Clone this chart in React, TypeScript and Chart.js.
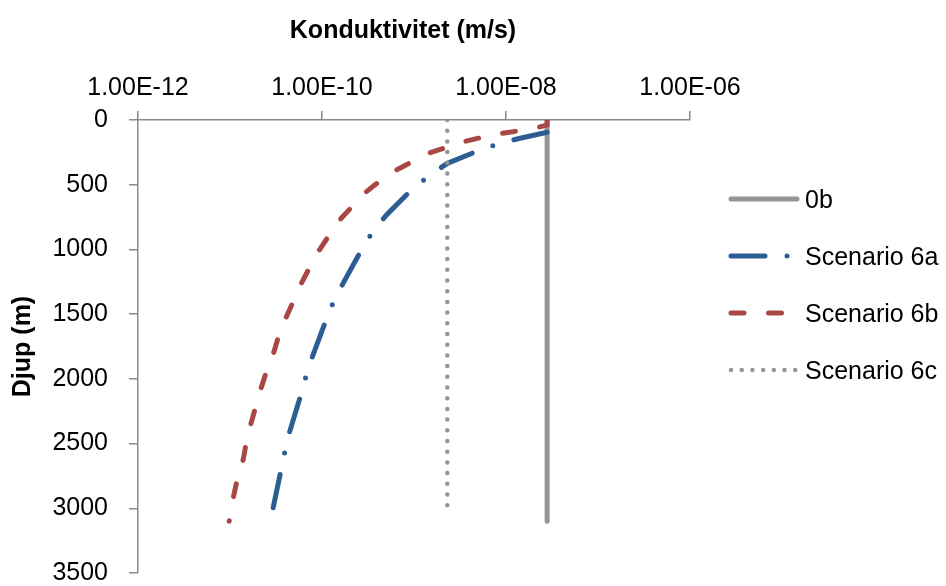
import React, { useEffect, useRef } from "react";
import { Chart, registerables } from "chart.js";

Chart.register(...registerables);

const FONT = "'Liberation Sans', Arial, sans-serif";

// Axis ticks and titles
const xTickValues = [1e-12, 1e-10, 1e-8, 1e-6];
const xTickLabels = ["1.00E-12", "1.00E-10", "1.00E-08", "1.00E-06"];
const xTitle = "Konduktivitet (m/s)";
const yTitle = "Djup (m)";
const yMin = 0;
const yMax = 3500;
const yStep = 500;

// Series names
const seriesNames = ["0b", "Scenario 6a", "Scenario 6b", "Scenario 6c"];

// 0b (depth m, conductivity m/s)
const depth0b = [0, 3100];
const k0b = [2.8e-8, 2.8e-8];

// Scenario 6a
const depth6a = [95, 135, 175, 225, 335, 430, 530, 735, 865, 1000, 1260, 1400, 1550, 1825, 1980, 2140, 2420, 2580, 2740, 3020];
const k6a = [2.8e-8, 1.55e-8, 9.1e-9, 5.5e-9, 2.3e-9, 1.47e-9, 9.7e-10, 5.0e-10, 3.55e-10, 2.7e-10, 1.7e-10, 1.34e-10, 1.1e-10, 7.9e-11, 6.7e-11, 5.8e-11, 4.4e-11, 3.9e-11, 3.5e-11, 2.9e-11];

// Scenario 6b
const depth6b = [0, 40, 57, 83, 103, 134, 165, 214, 253, 325, 387, 474, 557, 665, 763, 889, 1003, 1127, 1258, 1397, 1521, 1663, 1792, 1939, 2062, 2217, 2338, 2493, 2616, 2776, 2900, 3055, 3100];
const k6b = [2.8e-8, 2.8e-8, 2.2e-8, 1.4e-8, 9.1e-9, 5.5e-9, 3.6e-9, 2.2e-9, 1.5e-9, 9.4e-10, 6.4e-10, 4.2e-10, 3.0e-10, 2.15e-10, 1.6e-10, 1.2e-10, 9.4e-11, 7.5e-11, 6.0e-11, 4.9e-11, 4.1e-11, 3.4e-11, 3.0e-11, 2.5e-11, 2.2e-11, 1.9e-11, 1.7e-11, 1.5e-11, 1.4e-11, 1.2e-11, 1.1e-11, 1.0e-11, 9.8e-12];

// Scenario 6c
const depth6c = [0, 3050];
const k6c = [2.3e-9, 2.3e-9];

const toPoints = (ks: number[], ds: number[]) => ks.map((k, i) => ({ x: k, y: ds[i] }));

const legendPlugin = {
  id: "customLegend",
  afterDraw(chart: any) {
    const ctx = chart.ctx;
    const area = chart.chartArea;
    // x-axis title (placed like the original, slightly left of the axis centre)
    ctx.save();
    ctx.fillStyle = "#000";
    ctx.font = `bold 25px ${FONT}`;
    ctx.textAlign = "center";
    ctx.textBaseline = "middle";
    ctx.fillText(xTitle, area.left + 265, 31);
    ctx.restore();

    const x0 = area.right + 41;
    const x1 = area.right + 107;
    const tx = area.right + 115;
    chart.data.datasets.forEach((ds: any, i: number) => {
      const y = 199 + i * 57;
      ctx.save();
      ctx.strokeStyle = ds.borderColor;
      ctx.lineWidth = ds.borderWidth;
      ctx.lineCap = ds.borderCapStyle || "butt";
      ctx.setLineDash(ds.borderDash || []);
      ctx.beginPath();
      ctx.moveTo(x0, y);
      ctx.lineTo(x1, y);
      ctx.stroke();
      ctx.setLineDash([]);
      ctx.fillStyle = "#000";
      ctx.font = `25px ${FONT}`;
      ctx.textBaseline = "middle";
      ctx.textAlign = "left";
      ctx.fillText(ds.label, tx, y + 2);
      ctx.restore();
    });
  },
};

export default function App() {
  const canvasRef = useRef<HTMLCanvasElement | null>(null);

  useEffect(() => {
    if (!canvasRef.current) return;
    const axisColor = "#8a8a8a";
    const chart = new Chart(canvasRef.current, {
      type: "scatter",
      data: {
        datasets: [
          {
            label: seriesNames[0],
            data: toPoints(k0b, depth0b),
            showLine: true,
            borderColor: "#959595",
            borderWidth: 5,
            borderCapStyle: "round",
            pointRadius: 0,
            order: 4,
          },
          {
            label: seriesNames[1],
            data: toPoints(k6a, depth6a),
            showLine: true,
            borderColor: "#2C5E93",
            borderWidth: 5,
            borderCapStyle: "round",
            borderJoinStyle: "round",
            borderDash: [34, 22, 0, 22],
            pointRadius: 0,
            order: 3,
          },
          {
            label: seriesNames[2],
            data: toPoints(k6b, depth6b),
            showLine: true,
            borderColor: "#A94744",
            borderWidth: 5,
            borderCapStyle: "round",
            borderJoinStyle: "round",
            borderDash: [13, 24.5],
            pointRadius: 0,
            order: 2,
          },
          {
            label: seriesNames[3],
            data: toPoints(k6c, depth6c),
            showLine: true,
            borderColor: "#959595",
            borderWidth: 4.5,
            borderCapStyle: "round",
            borderDash: [0, 10.7],
            pointRadius: 0,
            order: 1,
          },
        ] as any,
      },
      options: {
        animation: false,
        responsive: true,
        maintainAspectRatio: false,
        events: [],
        layout: { padding: { left: 0, top: 0, right: 256, bottom: 13 } },
        plugins: {
          legend: { display: false },
          tooltip: { enabled: false },
        },
        scales: {
          x: {
            type: "logarithmic",
            position: "top",
            min: xTickValues[0],
            max: xTickValues[xTickValues.length - 1],
            afterBuildTicks: (scale: any) => {
              scale.ticks = xTickValues.map((v) => ({ value: v }));
            },
            afterFit: (scale: any) => {
              scale.height = 120;
              scale.paddingLeft = 0;
              scale.paddingRight = 0;
            },
            ticks: {
              autoSkip: false,
              maxRotation: 0,
              padding: 8,
              color: "#000",
              font: { family: FONT, size: 25 },
              callback: (_v: any, i: number) => xTickLabels[i],
            },
            grid: {
              display: true,
              drawOnChartArea: false,
              drawTicks: true,
              tickLength: 9,
              color: axisColor,
              lineWidth: 1.5,
            },
            border: { display: true, color: axisColor, width: 1.5 },
            title: { display: false },
          },
          y: {
            type: "linear",
            reverse: true,
            min: yMin,
            max: yMax,
            afterFit: (scale: any) => {
              scale.width = 138;
              scale.paddingTop = 0;
              scale.paddingBottom = 0;
            },
            ticks: {
              stepSize: yStep,
              padding: 21,
              color: "#000",
              font: { family: FONT, size: 25 },
              callback: (v: any) => String(v),
            },
            grid: {
              display: true,
              drawOnChartArea: false,
              drawTicks: true,
              tickLength: 9,
              color: axisColor,
              lineWidth: 1.5,
            },
            border: { display: true, color: axisColor, width: 1.5 },
            title: {
              display: true,
              text: yTitle,
              color: "#000",
              font: { family: FONT, size: 25, weight: "bold" },
              padding: { top: 8, bottom: 0 },
            },
          },
        },
      } as any,
      plugins: [legendPlugin],
    });
    return () => chart.destroy();
  }, []);

  return (
    <div style={{ position: "absolute", left: 0, top: 0, width: 946, height: 586, background: "#fff" }}>
      <canvas ref={canvasRef} />
    </div>
  );
}
